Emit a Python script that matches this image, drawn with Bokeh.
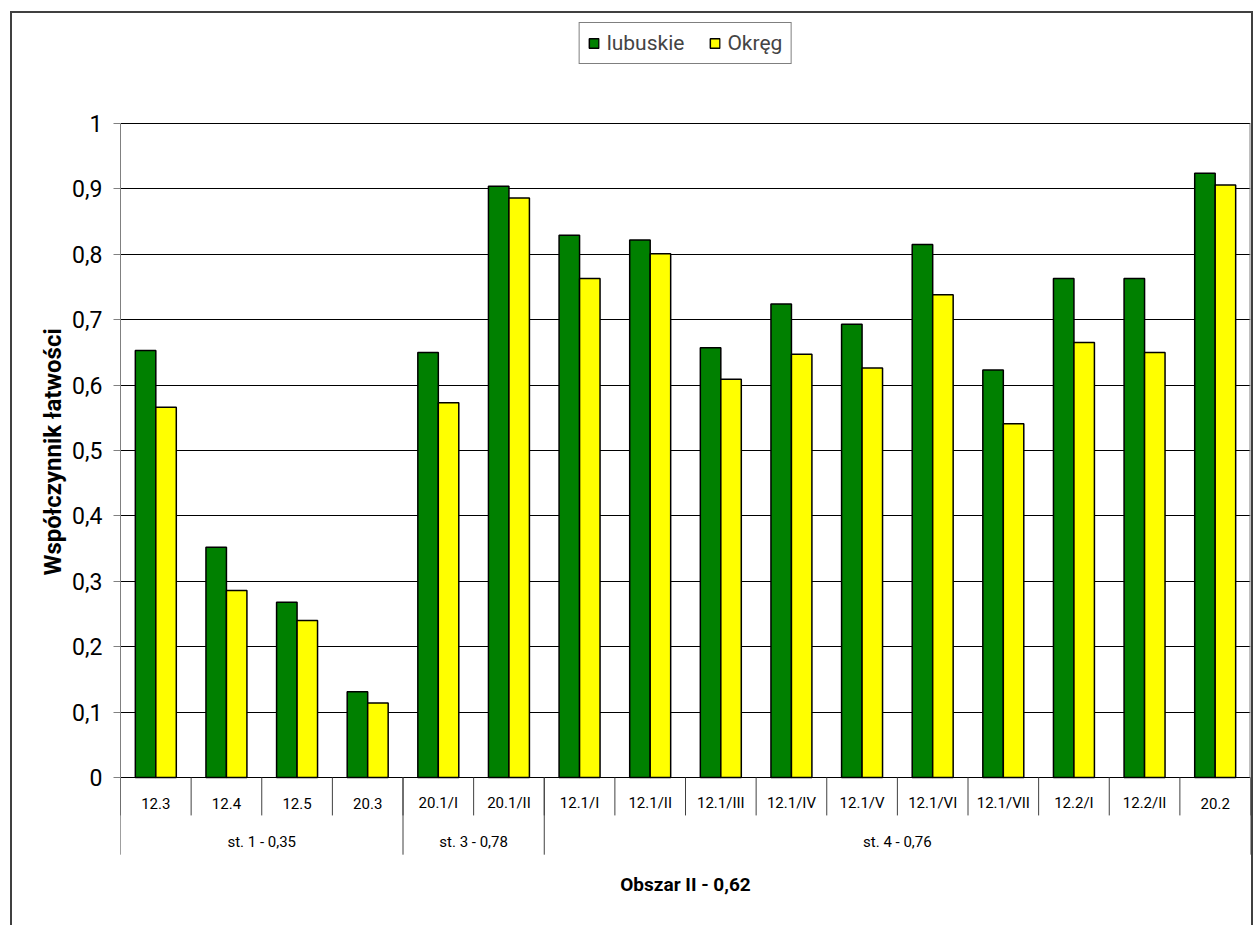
import numpy as np
from bokeh.plotting import figure
from bokeh.models import (Range1d, FixedTicker, CustomJSTickFormatter, Title,
                          Legend, LegendItem, ColumnDataSource)
from bokeh.core.properties import value
from bokeh.embed import file_html
from bokeh.resources import INLINE

# ---------------- data ----------------
categories = ["12.3", "12.4", "12.5", "20.3", "20.1/I", "20.1/II", "12.1/I", "12.1/II",
              "12.1/III", "12.1/IV", "12.1/V", "12.1/VI", "12.1/VII", "12.2/I", "12.2/II", "20.2"]
groups = ["st. 1 - 0,35", "st. 3 - 0,78", "st. 4 - 0,76"]
group_sizes = [4, 2, 10]
lubuskie = [0.653, 0.352, 0.268, 0.131, 0.650, 0.904, 0.829, 0.822,
            0.657, 0.724, 0.693, 0.815, 0.623, 0.763, 0.763, 0.924]
okreg = [0.566, 0.286, 0.240, 0.114, 0.573, 0.886, 0.763, 0.801,
         0.609, 0.647, 0.626, 0.738, 0.541, 0.665, 0.650, 0.906]
y_ticks = [0, 0.1, 0.2, 0.3, 0.4, 0.5, 0.6, 0.7, 0.8, 0.9, 1.0]
series_names = ["lubuskie", "Okręg"]
x_title = "Obszar II - 0,62"
y_title = "Współczynnik łatwości"

# ---------------- layout / style ----------------
FONT = "Roboto"
GREEN = "#008000"
YELLOW = "#FFFF00"
BAR_W = 0.29
PX_PER_UNIT = 654.0
ZERO_PX = 777.0
TOP_PX = 13.0
H = 914
W = 1243
Y_END = (ZERO_PX - TOP_PX) / PX_PER_UNIT
Y_START = Y_END - H / PX_PER_UNIT

n = len(categories)
centers = np.arange(n) + 0.5
src = ColumnDataSource(dict(
    xg=centers - BAR_W / 2, xy=centers + BAR_W / 2,
    lub=lubuskie, okr=okreg, cat=categories, xc=centers,
))

p = figure(width=W, height=H, x_range=Range1d(0, n), y_range=Range1d(Y_START, Y_END),
           output_backend="svg", toolbar_location=None, x_axis_location=None,
           min_border_left=108, min_border_right=5, min_border_top=0, min_border_bottom=0)
p.styles = {"border-left": "2px solid #404040", "border-top": "2px solid #404040",
            "border-right": "2px solid #404040", "margin-left": "10px", "margin-top": "11px"}
p.outline_line_color = None
p.background_fill_color = "white"
p.border_fill_color = "white"

ticker = FixedTicker(ticks=y_ticks)
ax = p.yaxis[0]
ax.ticker = ticker
ax.bounds = (0, 1)
ax.formatter = CustomJSTickFormatter(
    code="return tick.toFixed(1).replace('.', ',').replace(',0', '');")
ax.axis_line_color = "#808080"
ax.major_tick_line_color = "#808080"
ax.major_tick_out = 7
ax.major_tick_in = 0
ax.minor_tick_line_color = None
ax.major_label_text_font = FONT
ax.major_label_text_font_size = "23px"
ax.major_label_text_color = "black"
ax.major_label_standoff = 11

p.xgrid.visible = False
p.ygrid.ticker = ticker
p.ygrid.grid_line_color = "#000000"
p.ygrid.grid_line_width = 1

# bars
r1 = p.vbar(x="xg", top="lub", bottom=0, width=BAR_W, source=src,
            fill_color=GREEN, line_color="black", line_width=1.5)
r2 = p.vbar(x="xy", top="okr", bottom=0, width=BAR_W, source=src,
            fill_color=YELLOW, line_color="black", line_width=1.5)

# plot-area right border
p.segment(x0=[n], y0=[0], x1=[n], y1=[1], line_color="#808080", line_width=2)

# category separators
SHORT = -0.058
LONG = -0.118
bounds_all = np.arange(n + 1)
p.segment(x0=bounds_all, y0=0, x1=bounds_all, y1=SHORT, line_color="#404040", line_width=1)
gb = np.concatenate([[0], np.cumsum(group_sizes)])
p.segment(x0=gb, y0=0, x1=gb, y1=LONG, line_color="#404040", line_width=1)

# category labels
p.text(x="xc", y=-0.0393, text="cat", source=src, text_font=value(FONT),
       text_font_size="15px", text_align="center", text_baseline="middle", text_color="black")
gcenters = (gb[:-1] + gb[1:]) / 2
p.text(x=gcenters, y=-0.0979, text=groups, text_font=value(FONT),
       text_font_size="15px", text_align="center", text_baseline="middle", text_color="black")
# x title
p.text(x=[n / 2], y=[-0.1636], text=[x_title], text_font=value(FONT), text_font_style="bold",
       text_font_size="19px", text_align="center", text_baseline="middle", text_color="black")

# y title (left panel)
yt = Title(text=y_title, align="left", offset=352, text_font=FONT, text_font_style="bold",
           text_font_size="24px", text_color="black", standoff=6)
p.add_layout(yt, "left")

legend = Legend(items=[LegendItem(label=series_names[0], renderers=[r1]),
                       LegendItem(label=series_names[1], renderers=[r2])],
                location="top_center", orientation="horizontal",
                border_line_color="black", border_line_width=1,
                background_fill_color="white", background_fill_alpha=1,
                label_text_font=FONT, label_text_font_size="21px",
                glyph_width=12, glyph_height=12, label_standoff=7,
                spacing=24, padding=8, margin=9)
p.add_layout(legend)

open("out.html", "w").write(file_html(p, INLINE))
